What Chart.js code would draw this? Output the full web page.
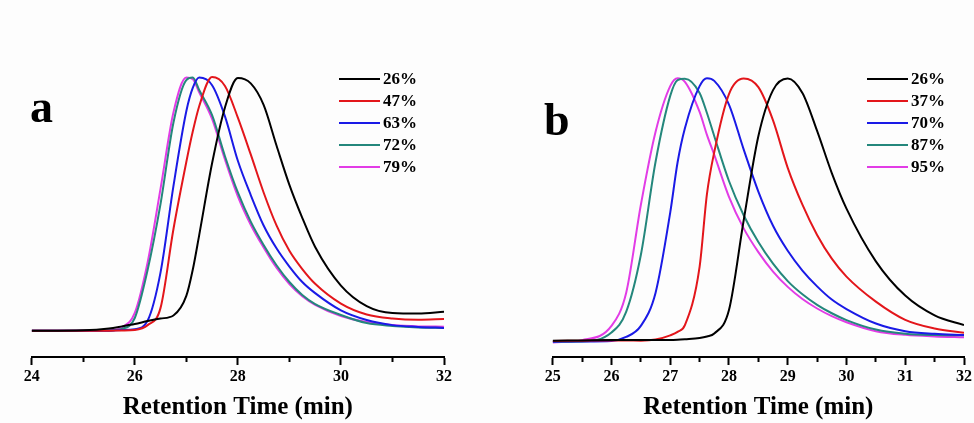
<!DOCTYPE html>
<html><head><meta charset="utf-8">
<script src="https://cdn.jsdelivr.net/npm/chart.js@4.4.0/dist/chart.umd.min.js"></script>
<style>
html,body{margin:0;padding:0;background:#fdfdfd;}
#wrap{position:relative;width:974px;height:423px;overflow:hidden;}
.pane{position:absolute;top:0;width:487px;height:423px;}
</style></head><body>
<div id="wrap">
<div class="pane" style="left:0"><canvas id="ca" width="487" height="423"></canvas></div>
<div class="pane" style="left:487px"><canvas id="cb" width="487" height="423"></canvas></div>
</div>
<script>
// ---- Panel a data ----
const timeA = [24, 25, 25.5, 25.75, 26, 26.25, 26.5, 26.75, 27, 27.125, 27.25, 27.5, 27.75, 28, 28.25, 28.5, 28.75, 29, 29.25, 29.5, 30, 30.5, 31, 31.5, 32];
const labelsA = ['26%', '47%', '63%', '72%', '79%'];
const a26 = [0, 0.2, 0.9, 1.7, 2.6, 3.8, 4.8, 6.0, 13.7, 24, 37.7, 66, 88, 99.6, 97.5, 89, 73, 57.5, 44.5, 33, 17.8, 9.7, 7.0, 6.8, 7.5];
const a47 = [0, 0, 0, 0.1, 0.3, 2.2, 9, 40, 66.5, 78.5, 88.5, 100, 96.5, 84, 69.5, 54.5, 41.5, 31.5, 24.3, 18.5, 10.7, 6.4, 4.8, 4.3, 4.6];
const a63 = [0, 0, 0, 0.3, 0.6, 4, 23, 57, 86.5, 95.7, 99.8, 96.8, 84.5, 67, 53.5, 41.5, 32.5, 25.3, 19.2, 14.8, 8, 4.2, 2.2, 1.5, 1.1];
const a72 = [0, 0, 0.1, 0.7, 5, 24, 50, 82, 98.8, 99.8, 94.9, 85, 68.8, 54.5, 43, 33.8, 25.8, 19.2, 14.1, 10.5, 6.2, 3, 1.9, 1.3, 1.1];
const a79 = [0, 0, 0.1, 1.3, 7, 27, 56, 86, 99.8, 99.2, 94, 83.5, 67.5, 53, 41.8, 32.8, 24.8, 18.4, 13.6, 10.2, 5.8, 3.4, 2.2, 1.7, 1.6];
const ticksA = [24, 26, 28, 30, 32];

// ---- Panel b data ----
const timeB = [25, 25.5, 26, 26.25, 26.5, 26.75, 27, 27.125, 27.25, 27.5, 27.625, 27.75, 28, 28.25, 28.5, 28.75, 29, 29.25, 29.5, 29.75, 30, 30.5, 31, 31.5, 32];
const labelsB = ['26%', '37%', '70%', '87%', '95%'];
const b26 = [0.4, 0.5, 0.6, 0.6, 0.6, 0.6, 0.6, 0.7, 0.9, 1.4, 2.0, 3.1, 12, 46, 78, 95.5, 99.9, 94.4, 80, 64, 50.5, 30.5, 17.5, 10, 6.3];
const b37 = [0.3, 0.4, 0.5, 0.5, 0.4, 0.8, 2.4, 3.7, 6.3, 28.4, 56, 72, 94, 99.9, 96.6, 84, 66, 52, 40.5, 31.5, 24.7, 15.2, 8.3, 5, 3.4];
const b70 = [0, 0.1, 0.3, 1.8, 6, 18.5, 49, 68, 81, 97, 100, 99, 90, 73, 57, 44, 34.5, 27, 21, 16, 12.4, 6.9, 4, 3, 2.5];
const b87 = [0, 0.1, 3.5, 11.3, 32.9, 68.2, 93.3, 99.3, 99.8, 94.4, 86.8, 78, 61, 48, 37.8, 29.6, 23, 18, 14, 10.8, 8.2, 4.6, 3, 2.5, 2.4];
const b95 = [-0.3, 0.6, 6, 18.5, 51.9, 79.6, 97, 100, 98.6, 87.2, 78.5, 70.9, 55, 43, 34, 26.6, 20.8, 16.2, 12.6, 9.7, 7.4, 4, 2.6, 2, 1.7];
const ticksB = [25, 26, 27, 28, 29, 30, 31, 32];

const colors = ['#000000', '#e3161b', '#1a1ae6', '#24877c', '#e23ce6'];
const SERIF = "'Liberation Serif', 'Times New Roman', serif";

const overlay = {
  id: 'overlay',
  afterDatasetsDraw(chart, args, o) {
    const ctx = chart.ctx;
    ctx.save();
    ctx.fillStyle = '#000';
    ctx.textAlign = 'left';
    ctx.textBaseline = 'alphabetic';
    ctx.font = `bold ${o.letterSize}px ${SERIF}`;
    ctx.fillText(o.letter, o.letterX, o.letterY);
    ctx.font = `bold 17px ${SERIF}`;
    ctx.textBaseline = 'middle';
    chart.data.datasets.forEach((ds, i) => {
      const y = o.legY + i * o.legGap;
      ctx.strokeStyle = ds.borderColor;
      ctx.lineWidth = 2;
      ctx.beginPath();
      ctx.moveTo(o.legX, y);
      ctx.lineTo(o.legX + o.legLen, y);
      ctx.stroke();
      ctx.fillStyle = '#000';
      ctx.fillText(ds.label, o.legX + o.legLen + 3, y + 1);
    });
    ctx.restore();
  }
};

function makeChart(id, times, series, labels, xmin, xmax, step, majors, ymin, ymax, pad, ov) {
  const datasets = series.map((vals, i) => ({
    label: labels[i],
    data: times.map((t, j) => ({x: t, y: vals[j]})),
    borderColor: colors[i],
    borderWidth: 2,
    pointRadius: 0,
    cubicInterpolationMode: 'monotone',
    fill: false
  }));
  const isMajor = v => majors.some(m => Math.abs(m - v) < 1e-6);
  return new Chart(document.getElementById(id), {
    type: 'line',
    data: {datasets},
    plugins: [overlay],
    options: {
      responsive: false,
      animation: false,
      devicePixelRatio: 1,
      layout: {padding: pad},
      plugins: {legend: {display: false}, tooltip: {enabled: false}, overlay: ov},
      scales: {
        x: {
          type: 'linear', min: xmin, max: xmax,
          ticks: {
            stepSize: step, autoSkip: false, maxRotation: 0, color: '#000', padding: 2,
            font: {family: SERIF, weight: 'bold', size: 16},
            callback: v => isMajor(v) ? String(Math.round(v)) : ''
          },
          grid: {
            drawOnChartArea: false, drawTicks: true, tickLength: 8, tickWidth: 2, tickColor: '#000',
            tickBorderDash: c => (c.tick && !isMajor(c.tick.value)) ? [4, 100] : []
          },
          border: {display: true, color: '#000', width: 2},
          title: {
            display: true, text: 'Retention Time (min)', color: '#000',
            font: {family: SERIF, weight: 'bold', size: 25}, padding: {top: 0, bottom: 0}
          },
          afterFit: s => { s.height = 66; }
        },
        y: {display: false, min: ymin, max: ymax}
      }
    }
  });
}

makeChart('ca', timeA, [a26, a47, a63, a72, a79], labelsA, 24, 32, 1, ticksA,
  -10.37, 122.5, {left: 31.7, right: 43, top: 20, bottom: 0},
  {letter: 'a', letterSize: 46, letterX: 30, letterY: 122, legX: 339, legLen: 41, legY: 79, legGap: 22});

makeChart('cb', timeB, [b26, b37, b70, b87, b95], labelsB, 25, 32, 0.5, ticksB,
  -5.81, 122.1, {left: 65.7, right: 9.3, top: 20, bottom: 0},
  {letter: 'b', letterSize: 46, letterX: 57, letterY: 135, legX: 380, legLen: 41, legY: 79, legGap: 22});
</script>
</body></html>
